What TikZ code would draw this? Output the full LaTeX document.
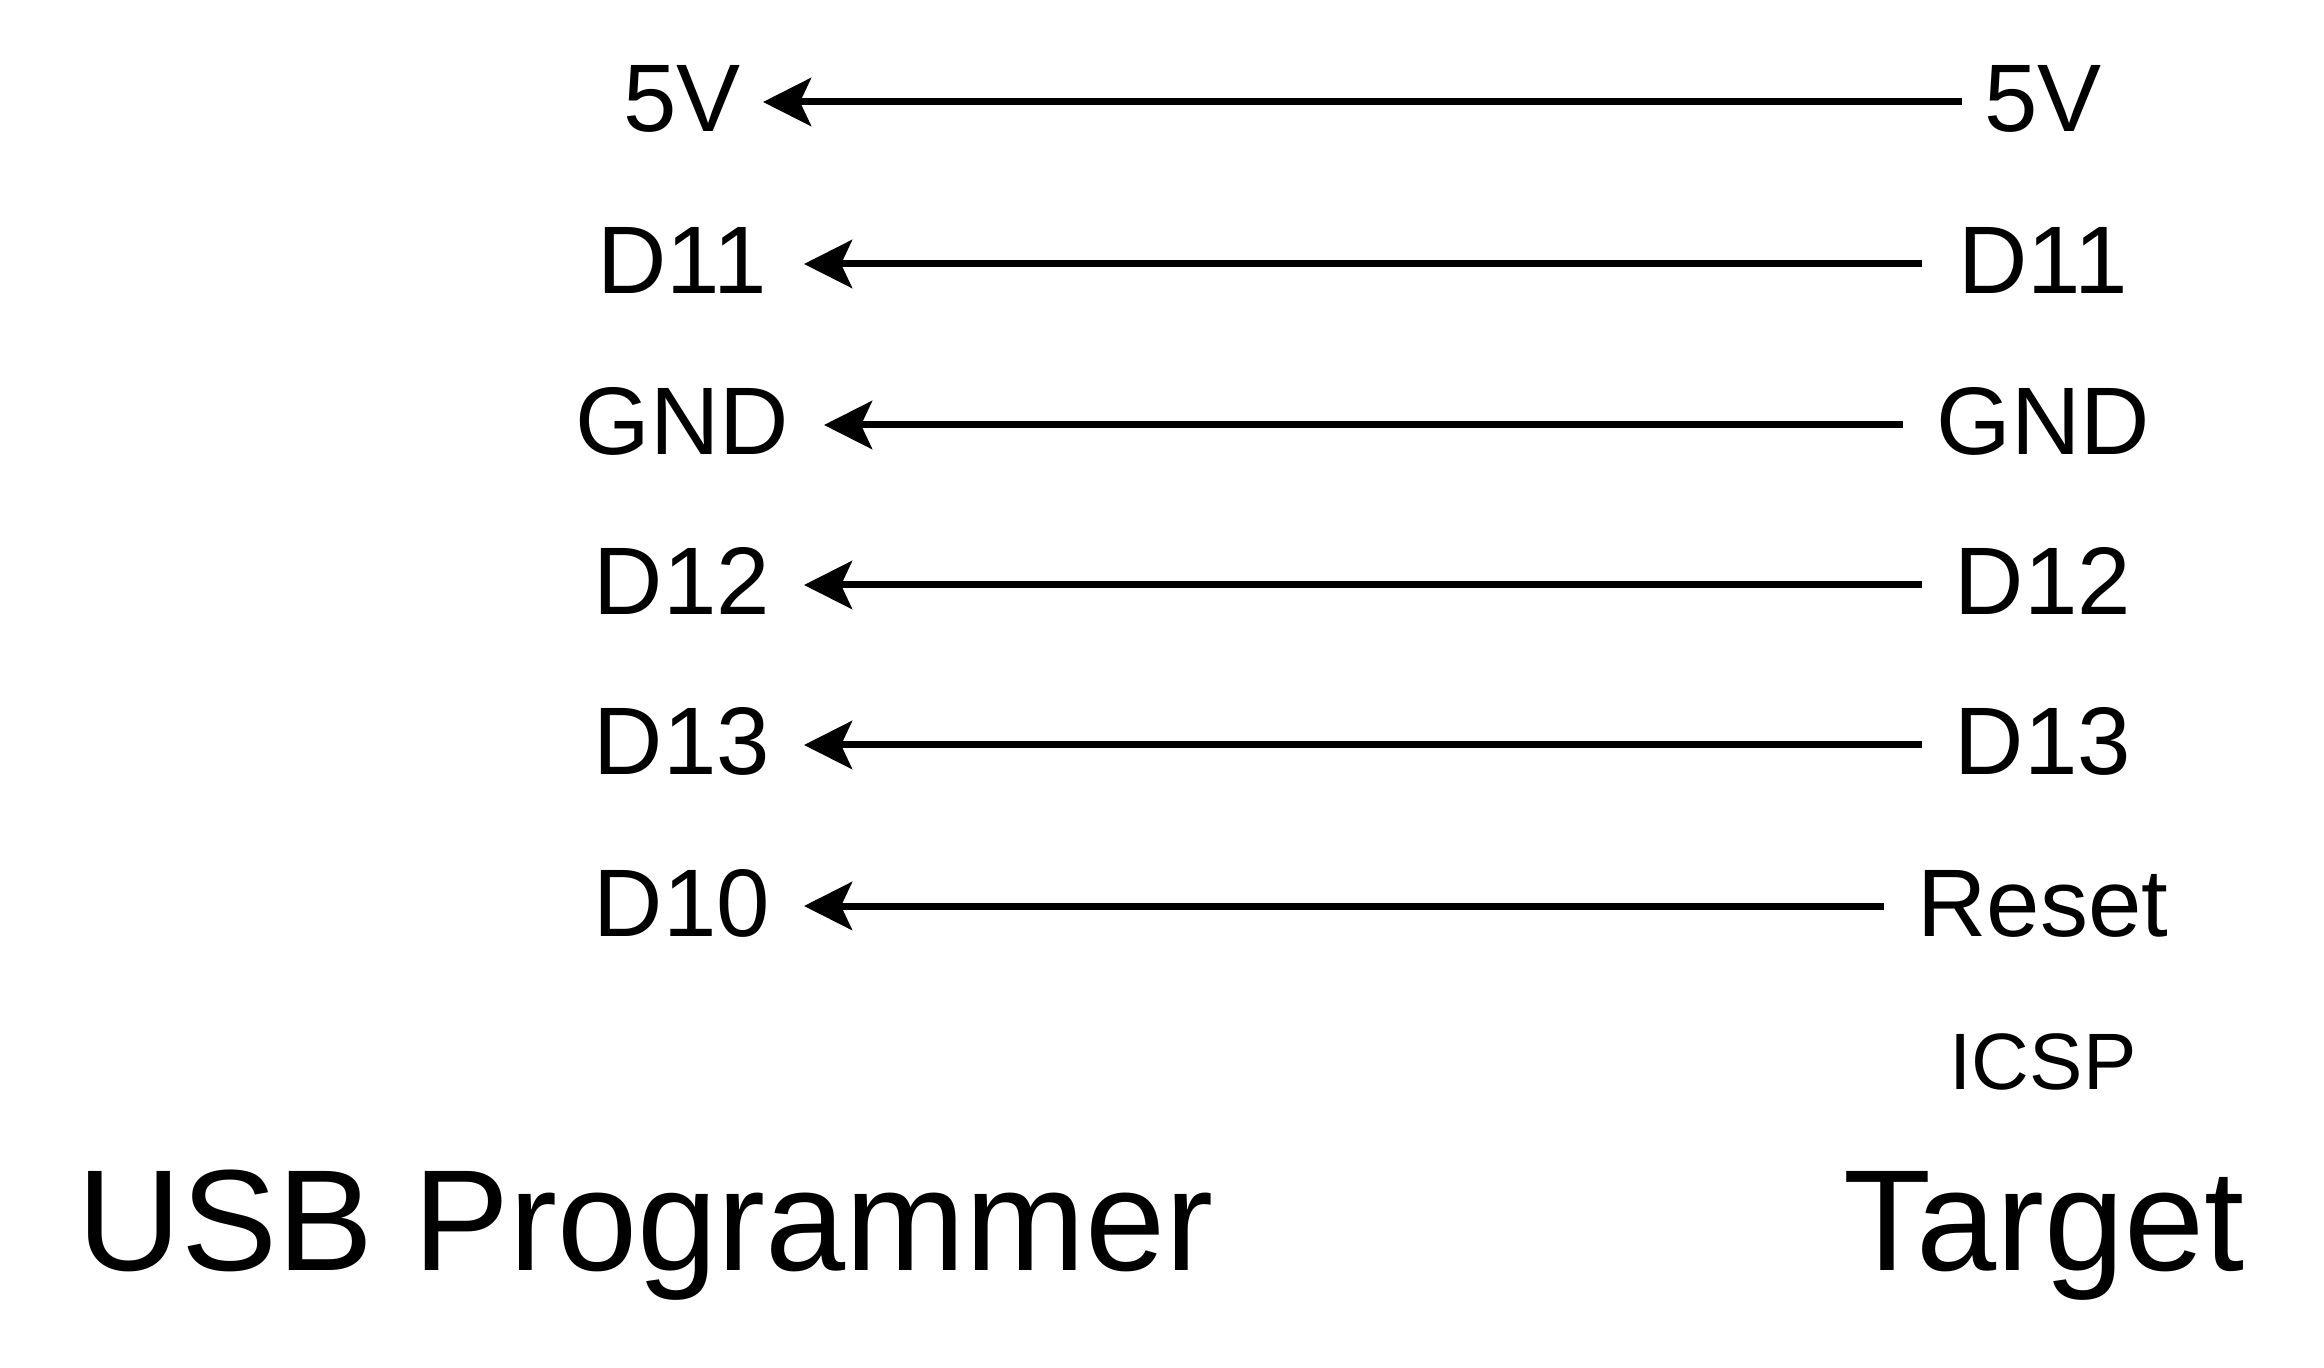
\documentclass[tikz,border=0pt]{standalone}
\usepackage{fontspec}
\setmainfont{Liberation Sans}
\usetikzlibrary{arrows.meta}
\tikzset{
  pin/.style={anchor=base, inner sep=0pt, font=\fontsize{48}{58}\selectfont},
  small/.style={anchor=base, inner sep=0pt, font=\fontsize{40}{48}\selectfont},
  title/.style={anchor=base, inner sep=0pt, font=\fontsize{72}{86}\selectfont},
  wire/.style={line width=3.5pt, -{Stealth[length=24pt, width=24pt, inset=5.5pt]}}
}
\begin{document}
\begin{tikzpicture}[x=0.5pt, y=-0.5pt]
  \fill[white] (0,0) rectangle (2324,1368);
  \useasboundingbox (0,0) rectangle (2324,1368);
  % left labels
  \node[pin] (l1) at (682,132) {5V};
  \node[pin] (l2) at (682,294) {D11};
  \node[pin] (l3) at (682,455) {GND};
  \node[pin] (l4) at (682,615) {D12};
  \node[pin] (l5) at (682,775) {D13};
  \node[pin] (l6) at (682,936) {D10};
  % right labels
  \node[pin] (r1) at (2043,132) {5V};
  \node[pin] (r2) at (2043,294) {D11};
  \node[pin] (r3) at (2043,455) {GND};
  \node[pin] (r4) at (2043,615) {D12};
  \node[pin] (r5) at (2043,775) {D13};
  \node[pin] (r6) at (2043,936) {Reset};
  \node[small] (icsp) at (2043,1089) {ICSP};
  \node[title] (usb) at (646,1270) {USB Programmer};
  \node[title] (tgt) at (2044,1270) {Target};
  % wire end points
  \coordinate (a1) at (1962,102); \coordinate (b1) at (763,102);
  \coordinate (a2) at (1922,264); \coordinate (b2) at (804,264);
  \coordinate (a3) at (1903,425); \coordinate (b3) at (824,425);
  \coordinate (a4) at (1922,585); \coordinate (b4) at (804,585);
  \coordinate (a5) at (1922,745); \coordinate (b5) at (804,745);
  \coordinate (a6) at (1884,906); \coordinate (b6) at (804,906);
  \foreach \i in {1,...,6} { \draw[wire] (a\i) -- (b\i); }
\end{tikzpicture}
\end{document}
